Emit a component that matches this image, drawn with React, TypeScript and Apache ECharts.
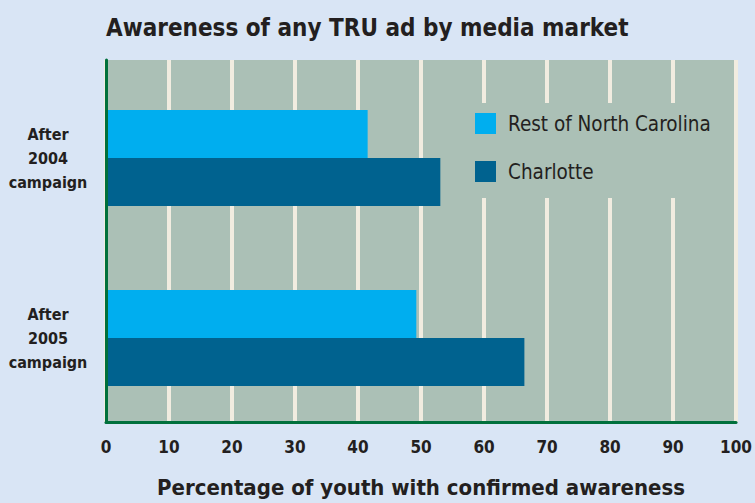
import React, { useEffect, useRef } from "react";
import * as echarts from "echarts";

const categories = ["After\n2004\ncampaign", "After\n2005\ncampaign"];
const restOfNC = [41.4, 49.1];
const charlotte = [52.9, 66.2];
const xTicks = [0, 10, 20, 30, 40, 50, 60, 70, 80, 90, 100];

const FONT = "'Liberation Sans Narrow', 'DejaVu Sans Condensed', 'Roboto Condensed', sans-serif";
const INK = "#231f20";
const AXIS_GREEN = "#00703c";

export default function App() {
  const ref = useRef<HTMLDivElement>(null);
  useEffect(() => {
    if (!ref.current) return;
    const chart = echarts.init(ref.current, undefined, { renderer: "svg" });
    chart.setOption({
      animation: false,
      backgroundColor: "#d9e5f5",
      title: {
        text: "Awareness of any TRU ad by media market",
        left: 101,
        top: 11,
        textStyle: { fontFamily: FONT, fontWeight: "bold", fontSize: 24, color: INK },
      },
      grid: [
        {
          left: 106,
          right: 17,
          top: 60,
          bottom: 75,
          show: true,
          backgroundColor: "#abc0b6",
          borderWidth: 0,
        },
        {
          left: 106,
          right: 17,
          top: 68,
          bottom: 75,
          show: false,
        },
      ],
      legend: {
        orient: "vertical",
        left: 466,
        top: 103,
        itemWidth: 21,
        itemHeight: 21,
        itemGap: 27,
        padding: [10, 20, 16, 9],
        backgroundColor: "#abc0b6",
        icon: "rect",
        textStyle: { fontFamily: FONT, fontSize: 20.5, color: INK, padding: [4, 0, 0, 7] },
        data: ["Rest of North Carolina", "Charlotte"],
      },
      xAxis: [
        {
          gridIndex: 0,
          type: "value",
          min: 0,
          max: 100,
          interval: 10,
          name: "Percentage of youth with confirmed awareness",
          nameLocation: "middle",
          nameGap: 54,
          nameTextStyle: { fontFamily: FONT, fontWeight: "bold", fontSize: 22, color: INK },
          axisLine: { show: true, lineStyle: { color: AXIS_GREEN, width: 3 } },
          axisTick: { show: false },
          axisLabel: {
            fontFamily: FONT,
            fontWeight: "bold",
            fontSize: 17,
            color: INK,
            margin: 16,
            formatter: (v: number) => (xTicks.includes(v) ? String(v) : ""),
          },
          splitLine: { show: true, lineStyle: { color: "#f1ece0", width: 4 } },
          z: 1,
        },
        {
          gridIndex: 1,
          type: "value",
          min: 0,
          max: 100,
          interval: 10,
          show: false,
          splitLine: { show: false },
        },
      ],
      yAxis: [
        {
          gridIndex: 0,
          type: "category",
          inverse: true,
          data: categories,
          axisLine: { show: true, lineStyle: { color: AXIS_GREEN, width: 3 } },
          axisTick: { show: false },
          axisLabel: { show: false },
          splitLine: { show: false },
          z: 5,
        },
        {
          gridIndex: 1,
          type: "category",
          inverse: true,
          data: categories,
          axisLine: { show: false },
          axisTick: { show: false },
          axisLabel: {
            fontFamily: FONT,
            fontWeight: "bold",
            fontSize: 16,
            lineHeight: 24,
            color: INK,
            align: "center",
            margin: 58,
          },
          splitLine: { show: false },
        },
      ],
      series: [
        {
          name: "Rest of North Carolina",
          type: "bar",
          xAxisIndex: 1,
          yAxisIndex: 1,
          data: restOfNC,
          barWidth: 48,
          barGap: "0%",
          itemStyle: { color: "#00aeef" },
          z: 3,
        },
        {
          name: "Charlotte",
          type: "bar",
          xAxisIndex: 1,
          yAxisIndex: 1,
          data: charlotte,
          barWidth: 48,
          barGap: "0%",
          itemStyle: { color: "#00628f" },
          z: 3,
        },
      ],
    });
    return () => chart.dispose();
  }, []);
  return <div ref={ref} style={{ width: 755, height: 503, position: "absolute", left: 0, top: 0 }} />;
}
